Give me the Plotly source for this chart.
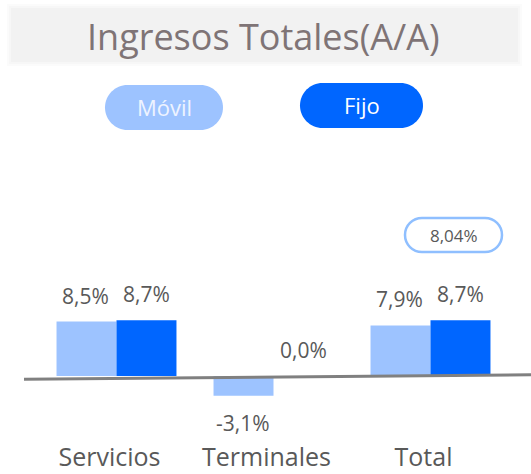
import plotly.graph_objects as go

categories = ["Servicios", "Terminales", "Total"]
movil = [8.5, -3.1, 7.9]
fijo = [8.7, 0.0, 8.7]
movil_labels = ["8,5%", "-3,1%", "7,9%"]
fijo_labels = ["8,7%", "0,0%", "8,7%"]
total_badge = "8,04%"
title_text = "Ingresos Totales(A/A)"
series_names = ["Móvil", "Fijo"]

C_MOVIL = "#9dc3ff"
C_FIJO = "#0066ff"
TXT = "#595959"
FONT = "Open Sans"

W, H = 531, 474
L, R, T, B = 38, 22, 140, 34
PW, PH = W - L - R, H - T - B


def px(x):
    return (x - L) / PW


def py(y):
    return (H - B - y) / PH


def pill(x0, y0, x1, y1):
    r = (y1 - y0) / 2
    k = 0.5523 * r
    pts = [
        ("M", [(x0 + r, y0)]),
        ("L", [(x1 - r, y0)]),
        ("C", [(x1 - r + k, y0), (x1, y0 + r - k), (x1, y0 + r)]),
        ("C", [(x1, y0 + r + k), (x1 - r + k, y1), (x1 - r, y1)]),
        ("L", [(x0 + r, y1)]),
        ("C", [(x0 + r - k, y1), (x0, y0 + r + k), (x0, y0 + r)]),
        ("C", [(x0, y0 + r - k), (x0 + r - k, y0), (x0 + r, y0)]),
    ]
    s = ""
    for cmd, ps in pts:
        s += cmd + " " + " ".join(f"{px(a):.5f},{py(b):.5f}" for a, b in ps) + " "
    return s + "Z"


fig = go.Figure()
fig.add_trace(go.Bar(x=categories, y=movil, name=series_names[0], marker=dict(color=C_MOVIL, line_width=0)))
fig.add_trace(go.Bar(x=categories, y=fijo, name=series_names[1], marker=dict(color=C_FIJO, line_width=0)))

annotations = []
for i, c in enumerate(categories):
    for vals, labs, xs in ((movil, movil_labels, -31), (fijo, fijo_labels, 30)):
        v = vals[i]
        annotations.append(dict(
            x=c, y=v, xref="x", yref="y", text=labs[i], showarrow=False,
            xshift=xs, yshift=(26 if v >= 0 else -27), xanchor="center", yanchor="middle",
            borderpad=0, font=dict(family=FONT, size=21, color=TXT)))

shapes = []
# title box with soft shadow
for d, col in ((4, "#fbfbfb"), (2, "#f7f7f7")):
    shapes.append(dict(type="rect", xref="paper", yref="paper",
                       x0=px(11 - d), x1=px(518 + d), y0=py(62 + d), y1=py(8 - d),
                       fillcolor=col, line_width=0, layer="below"))
shapes.append(dict(type="rect", xref="paper", yref="paper",
                   x0=px(11), x1=px(518), y0=py(62), y1=py(8),
                   fillcolor="#f2f2f2", line_width=0, layer="below"))
# legend pills
shapes.append(dict(type="path", xref="paper", yref="paper", path=pill(105, 85, 223, 130),
                   fillcolor=C_MOVIL, line_width=0))
shapes.append(dict(type="path", xref="paper", yref="paper", path=pill(300, 83, 423, 128),
                   fillcolor=C_FIJO, line_width=0))
# total badge
shapes.append(dict(type="path", xref="paper", yref="paper", path=pill(405, 218, 502, 252),
                   fillcolor="white", line=dict(color="#8fbfff", width=2.5)))
# baseline
shapes.append(dict(type="line", xref="paper", yref="paper",
                   x0=px(24), x1=px(531), y0=py(379.3), y1=py(374.7),
                   line=dict(color="#808080", width=3), layer="above"))

annotations += [
    dict(x=px(263.5), y=py(36), xref="paper", yref="paper", text=title_text, showarrow=False,
         xanchor="center", yanchor="middle", font=dict(family=FONT, size=36, color="#7f7476")),
    dict(x=px(164), y=py(107), xref="paper", yref="paper", text=series_names[0], showarrow=False,
         xanchor="center", yanchor="middle", font=dict(family=FONT, size=22, color="#eef3ff")),
    dict(x=px(361.5), y=py(105), xref="paper", yref="paper", text=series_names[1], showarrow=False,
         xanchor="center", yanchor="middle", font=dict(family=FONT, size=22, color="white")),
    dict(x=px(453.5), y=py(235), xref="paper", yref="paper", text=total_badge, showarrow=False,
         xanchor="center", yanchor="middle", font=dict(family=FONT, size=17, color=TXT)),
]

fig.update_layout(
    width=W, height=H,
    margin=dict(l=L, r=R, t=T, b=B, pad=0),
    paper_bgcolor="white", plot_bgcolor="white",
    barmode="group", bargap=0.236, bargroupgap=0,
    showlegend=False,
    shapes=shapes, annotations=annotations,
    xaxis=dict(showgrid=False, zeroline=False, showline=False, automargin=False,
               tickfont=dict(family=FONT, size=25, color=TXT), ticklabelshift=-7,
               range=[-0.5, 2.5]),
    yaxis=dict(range=[-10, 36.875], showgrid=False, zeroline=False, showline=False,
               showticklabels=False, automargin=False),
)

fig.write_html("out.html", config={"displayModeBar": False},
               post_script="document.body.style.margin='0';")
